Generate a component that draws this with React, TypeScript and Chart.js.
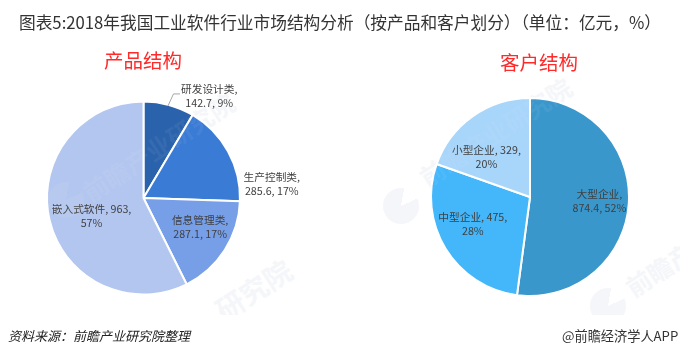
import React, { useEffect, useRef } from "react";
import { Chart, registerables } from "chart.js";

Chart.register(...registerables);

const TITLE = "图表5:2018年我国工业软件行业市场结构分析（按产品和客户划分）（单位：亿元，%）";
const productTitle = "产品结构";
const customerTitle = "客户结构";
const sourceText = "资料来源：前瞻产业研究院整理";
const brandText = "@前瞻经济学人APP";
const watermarkText = "前瞻产业研究院";

const productNames = ["研发设计类", "生产控制类", "信息管理类", "嵌入式软件"];
const productValues = [142.7, 285.6, 287.1, 963];
const productLabels = [["研发设计类,", "142.7, 9%"], ["生产控制类,", "285.6, 17%"], ["信息管理类,", "287.1, 17%"], ["嵌入式软件, 963,", "57%"]];
const customerNames = ["大型企业", "中型企业", "小型企业"];
const customerValues = [874.4, 475, 329];
const customerLabels = [["大型企业,", "874.4, 52%"], ["中型企业, 475,", "28%"], ["小型企业, 329,", "20%"]];

const productColors = ["#2A62AC", "#3A7BD5", "#769FE8", "#B3C6EF"];
const customerColors = ["#3A97CC", "#44B6FA", "#A8D5FA"];

const labelOffsets = {
  product: [[53, -56], [86, 9], [16, 3], [-5, 7]],
  customer: [[20, 1], [-15, 1], [-15, 0]],
};

type Cfg = { names: string[]; values: number[]; labels: string[][]; colors: string[]; offsets: number[][]; cx: number; cy: number; r: number; leader?: boolean };

const labelPlugin = {
  id: "sliceLabels",
  afterDatasetsDraw(chart: any, _a: any, opts: any) {
    const { ctx } = chart;
    const meta = chart.getDatasetMeta(0);
    ctx.save();
    ctx.font = '10.7px "Noto Sans CJK SC", sans-serif';
    ctx.fillStyle = "#404040";
    ctx.textAlign = "center";
    ctx.textBaseline = "middle";
    meta.data.forEach((arc: any, i: number) => {
      const p = arc.tooltipPosition();
      const [dx, dy] = opts.offsets[i];
      opts.labels[i].forEach((line: string, k: number) => {
        ctx.fillText(line, p.x + dx, p.y + dy + (k - 0.5) * 14);
      });
    });
    if (opts.leader) {
      const a = meta.data[0];
      const mid = (a.startAngle + a.endAngle) / 2;
      const x0 = a.x + Math.cos(mid) * a.outerRadius;
      const y0 = a.y + Math.sin(mid) * a.outerRadius;
      ctx.strokeStyle = "#A6A6A6";
      ctx.lineWidth = 1;
      ctx.beginPath();
      ctx.moveTo(x0 - 1, y0 + 1);
      ctx.lineTo(x0 + 4.5, y0 - 11);
      ctx.lineTo(x0 + 11, y0 - 11);
      ctx.stroke();
    }
    ctx.restore();
  },
};

function Pie({ cfg, left }: { cfg: Cfg; left: number }) {
  const ref = useRef<HTMLCanvasElement>(null);
  useEffect(() => {
    const w = 340, h = 355;
    const chart = new Chart(ref.current!, {
      type: "pie",
      data: {
        labels: cfg.names,
        datasets: [{ data: cfg.values, backgroundColor: cfg.colors, borderColor: "#FFFFFF", borderWidth: 2 }],
      },
      options: {
        animation: false,
        responsive: false,
        layout: { padding: { left: cfg.cx - cfg.r, right: w - cfg.cx - cfg.r, top: cfg.cy - cfg.r, bottom: h - cfg.cy - cfg.r } },
        plugins: {
          legend: { display: false },
          tooltip: { enabled: false },
          sliceLabels: { labels: cfg.labels, offsets: cfg.offsets, leader: cfg.leader },
        } as any,
      },
      plugins: [labelPlugin],
    });
    return () => chart.destroy();
  }, []);
  return <canvas ref={ref} width={340} height={355} style={{ position: "absolute", left, top: 0, width: 340, height: 355 }} />;
}

const cjk = '"Noto Sans CJK SC", sans-serif';
const abs = (left: number, top: number, size: number, color: string, extra: any = {}) => ({
  position: "absolute", left, top, fontSize: size, color, fontFamily: cjk, whiteSpace: "nowrap", lineHeight: 1, ...extra,
});

function Watermarks({ color }: { color: string }) {
  const text = (left: number, top: number, size: number, t: string) => (
    <span style={abs(left, top, size, color, { fontWeight: 700, transform: "rotate(-33deg)", transformOrigin: "0 50%" }) as any}>{t}</span>
  );
  const logo = (cx: number, cy: number, r: number) => (
    <div style={{ position: "absolute", left: cx - r, top: cy - r, width: 2 * r, height: 2 * r, borderRadius: "50%", background: `conic-gradient(from 10deg, transparent 0deg 55deg, ${color} 55deg 360deg)` }} />
  );
  return (
    <div style={{ position: "absolute", left: 0, top: 0, width: 680, height: 315, overflow: "hidden" }}>
      {text(85, 182, 25, watermarkText)}
      {logo(66, 200, 18)}
      {text(218, 298, 28, watermarkText.slice(4))}
      {text(422, 167, 25, watermarkText)}
      {logo(401, 206, 18)}
      {text(628, 277, 25, watermarkText)}
      {logo(608, 306, 18)}
    </div>
  );
}

export default function App() {
  useEffect(() => { document.body.style.margin = "0"; document.body.style.background = "#fff"; }, []);
  return (
    <div style={{ position: "relative", width: 680, height: 355, overflow: "hidden", background: "#fff" }}>
      <Watermarks color="#F4F6F9" />
      <Pie left={0} cfg={{ names: productNames, values: productValues, labels: productLabels, colors: productColors, offsets: labelOffsets.product, cx: 143.5, cy: 198, r: 97.5, leader: true }} />
      <Pie left={340} cfg={{ names: customerNames, values: customerValues, labels: customerLabels, colors: customerColors, offsets: labelOffsets.customer, cx: 190, cy: 197, r: 100 }} />
      <Watermarks color="rgba(255,255,255,0.06)" />
      <span style={abs(19, 14, 16.7, "#333333") as any}>{TITLE}</span>
      <span style={abs(104, 50, 19.5, "#FF2A2A") as any}>{productTitle}</span>
      <span style={abs(500, 52, 19.5, "#FF2A2A") as any}>{customerTitle}</span>
      <span style={abs(8, 329, 13, "#222222", { fontStyle: "italic" }) as any}>{sourceText}</span>
      <span style={abs(562, 329, 13.2, "#333333") as any}>{brandText}</span>
    </div>
  );
}
